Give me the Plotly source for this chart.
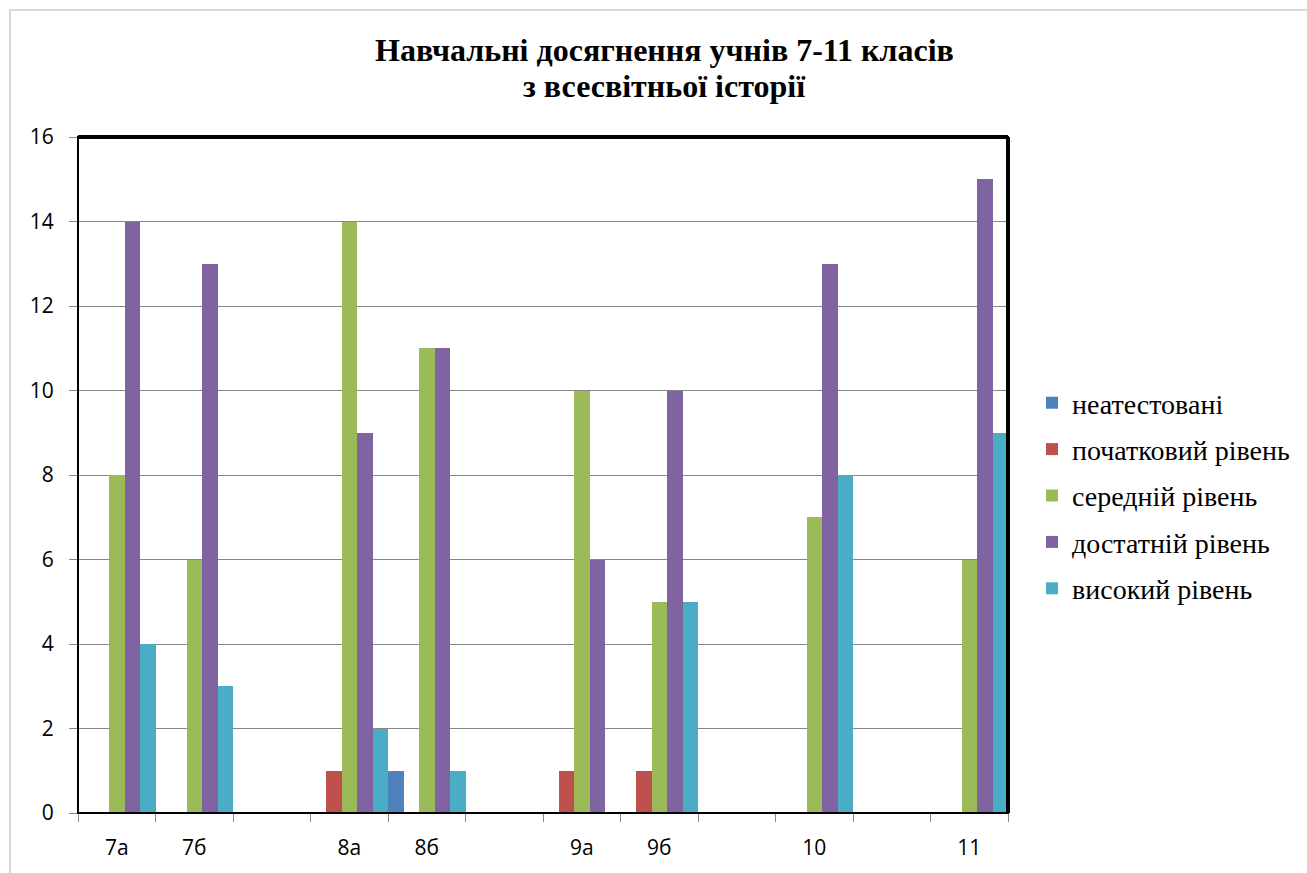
import plotly.graph_objects as go

categories = ["7а", "7б", " ", "8а", "8б", "  ", "9а", "9б", "   ", "10", "    ", "11"]
series_names = ["неатестовані", "початковий рівень", "середній рівень", "достатній рівень", "високий рівень"]
neatestovani = [0, 0, 0, 0, 1, 0, 0, 0, 0, 0, 0, 0]
pochatkovyi = [0, 0, 0, 1, 0, 0, 1, 1, 0, 0, 0, 0]
serednii = [8, 6, 0, 14, 11, 0, 10, 5, 0, 7, 0, 6]
dostatnii = [14, 13, 0, 9, 11, 0, 6, 10, 0, 13, 0, 15]
vysokyi = [4, 3, 0, 2, 1, 0, 0, 5, 0, 8, 0, 9]
colors = ["#4F81BD", "#C0504D", "#9BBB59", "#8064A2", "#4BACC6"]
y_ticks = [0, 2, 4, 6, 8, 10, 12, 14, 16]
title_lines = ["Навчальні досягнення учнів 7-11 класів", "з всесвітньої історії"]

SERIF = "Liberation Serif, Times New Roman, DejaVu Serif, serif"
SANS = "Open Sans, Liberation Sans, sans-serif"

W, H = 1307, 873
L, R, T, B = 78, 1008, 137, 813
pw, ph = R - L, B - T


def px(x):
    return (x - L) / pw


def py(y):
    return (B - y) / ph


fig = go.Figure()
for i, (name, vals) in enumerate(zip(series_names,
                                     [neatestovani, pochatkovyi, serednii, dostatnii, vysokyi])):
    fig.add_trace(go.Bar(
        x=categories, y=vals, name=name, legendgroup=f"g{i}",
        marker=dict(color=colors[i], line=dict(width=0)),
    ))

shapes = [
    dict(type="rect", xref="paper", yref="paper", x0=px(10), x1=px(1330), y0=py(890), y1=py(10),
         line=dict(color="#D9D9D9", width=2), layer="below"),
    dict(type="rect", xref="paper", yref="paper", x0=0, x1=1, y0=0, y1=1,
         line=dict(color="black", width=2), layer="above"),
    dict(type="line", xref="paper", yref="paper", x0=0, x1=1, y0=1, y1=1,
         line=dict(color="black", width=4), layer="above"),
    dict(type="line", xref="paper", yref="paper", x0=1, x1=1, y0=0, y1=1,
         line=dict(color="black", width=4), layer="above"),
]

annotations = [
    dict(text=f"<b>{t}</b>", xref="paper", yref="paper", x=px(664), y=py(yc),
         xanchor="center", yanchor="middle", showarrow=False,
         font=dict(family=SERIF, size=32, color="black"))
    for t, yc in zip(title_lines, [50, 86])
]

fig.update_layout(
    width=W, height=H,
    margin=dict(l=L, r=W - R, t=T, b=H - B, pad=0),
    paper_bgcolor="white", plot_bgcolor="white",
    barmode="group", bargap=0, bargroupgap=0,
    showlegend=True,
    legend=dict(x=px(1032), y=py(378), xanchor="left", yanchor="top",
                font=dict(family=SERIF, size=28, color="black"),
                tracegroupgap=7, bgcolor="rgba(0,0,0,0)"),
    annotations=annotations,
    shapes=shapes,
    xaxis=dict(type="category", categoryorder="array", categoryarray=categories,
               tickson="boundaries", ticks="outside", ticklen=8, tickcolor="#868686", tickwidth=1,
               ticklabelstandoff=16,
               showgrid=False, showline=True, linecolor="#868686", linewidth=1,
               tickfont=dict(family=SANS, size=21, color="black"), zeroline=False),
    yaxis=dict(range=[0, 16], tickvals=y_ticks, ticks="outside", ticklen=8, tickcolor="#868686",
               ticklabelstandoff=11,
               showgrid=True, gridcolor="#868686", gridwidth=1,
               showline=True, linecolor="#868686", linewidth=1, zeroline=False,
               tickfont=dict(family=SANS, size=21, color="black")),
)

fig.write_html("out.html", config={"displayModeBar": False},
               post_script="document.body.style.margin='0';")
